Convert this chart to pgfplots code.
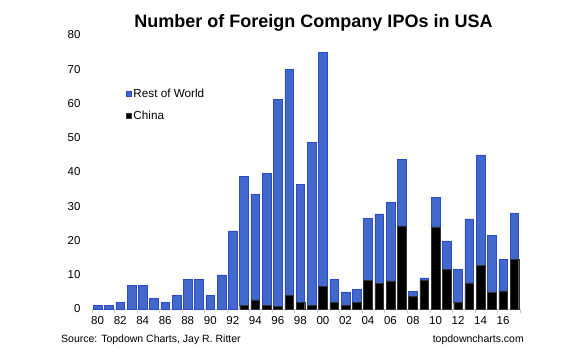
\documentclass[border=0pt]{standalone}
\usepackage{pgfplots}
\pgfplotsset{compat=1.18}
\usepackage{pgfplotstable}
\usepackage{fontspec}
\setmainfont{Liberation Sans}
\definecolor{rowblue}{RGB}{66,104,204}
\definecolor{rowedge}{RGB}{45,75,200}
\definecolor{axgray}{RGB}{200,200,200}

% idx china rest
\pgfplotstableread{
idx china rest
0  0    1
1  0    1
2  0    2
3  0    7
4  0    7
5  0    3
6  0    2
7  0    4
8  0    8.6
9  0    8.6
10 0    4
11 0    10
12 0    22.8
13 1.1  37.6
14 2.7  30.8
15 1.0  38.7
16 0.8  60.3
17 3.9  66.0
18 2.0  34.3
19 1.0  47.7
20 6.6  68.3
21 1.9  6.7
22 1.0  4.0
23 2.0  3.8
24 8.3  18.2
25 7.5  20.3
26 8.2  22.9
27 24.3 19.3
28 3.6  1.6
29 8.3  0.8
30 24.0 8.7
31 11.5 8.4
32 2.0  9.6
33 7.6  18.7
34 12.8 32.2
35 4.9  16.7
36 5.3  9.2
37 14.4 13.5
}\ipodata

\begin{document}
\begin{tikzpicture}
\useasboundingbox (0pt,0pt) rectangle (583pt,360pt);
\begin{axis}[
  at={(92pt,51pt)}, anchor=south west,
  scale only axis,
  width=428pt, height=274pt,
  ybar stacked,
  bar width=8.7pt,
  xmin=-0.5, xmax=37.5,
  ymin=0, ymax=80,
  axis y line=none,
  axis x line*=bottom,
  x axis line style={draw=axgray, line width=0.8pt, -},
  xtick={0,2,...,36},
  xticklabels={80,82,84,86,88,90,92,94,96,98,00,02,04,06,08,10,12,14,16},
  minor xtick={-0.5,1.5,...,37.5},
  major tick length=0pt,
  minor tick length=4pt,
  tick style={draw=axgray, line width=0.8pt},
  xtick pos=bottom,
  minor x tick style={yshift=-4pt},
  ytick={0,10,...,80},
  /pgf/number format/assume math mode=true,
  ticklabel style={font=\fontsize{11.5}{13}\selectfont, text=black},
  xticklabel style={yshift=-4pt},
  legend style={at={(rel axis cs:0.078,0.812)}, anchor=north west, draw=none, fill=none,
     font=\fontsize{11.7}{13}\selectfont, row sep=8pt, inner sep=0pt,
     cells={anchor=west}},
  legend image code/.code={\fill[#1] (0pt,-2.6pt) rectangle (5.4pt,2.6pt);},
  reverse legend,
  clip=false,
]
\addplot[fill=black, draw=black!80, line width=0.4pt] table[x=idx, y=china] {\ipodata};
\addplot[fill=rowblue, draw=rowedge, line width=0.5pt] table[x=idx, y=rest] {\ipodata};
\legend{China, Rest of World}
\end{axis}
% y tick labels (left side, no axis line)
\begin{axis}[
  at={(92pt,51pt)}, anchor=south west,
  scale only axis,
  width=428pt, height=274pt,
  xmin=-0.5, xmax=37.5, ymin=0, ymax=80,
  axis x line=none,
  axis y line*=left,
  y axis line style={draw=none},
  ytick={0,10,...,80},
  major tick length=0pt,
  /pgf/number format/assume math mode=true,
  yticklabel style={font=\fontsize{11.5}{13}\selectfont, xshift=-8pt},
]
\addplot[draw=none] coordinates {(0,0)};
\end{axis}
\node[font=\bfseries\fontsize{18}{21}\selectfont] at (313.5pt,337.5pt) {Number of Foreign Company IPOs in USA};
\node[anchor=west, inner sep=0pt, font=\fontsize{10.5}{12}\selectfont] at (61pt,20pt) {Source: Topdown Charts, Jay R. Ritter};
\node[anchor=east, inner sep=0pt, font=\fontsize{10.5}{12}\selectfont] at (524pt,20pt) {topdowncharts.com};
\end{tikzpicture}
\end{document}
